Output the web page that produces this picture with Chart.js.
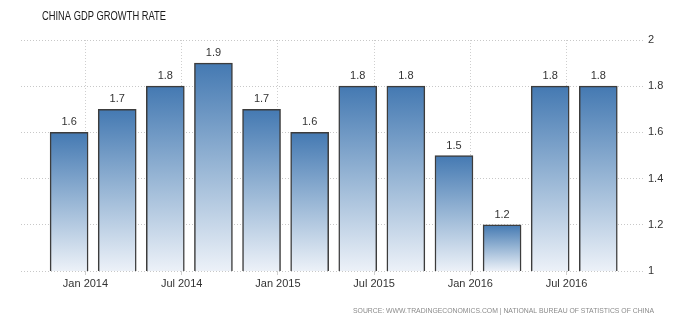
<!DOCTYPE html>
<html>
<head>
<meta charset="utf-8">
<script src="https://cdn.jsdelivr.net/npm/chart.js@4/dist/chart.umd.min.js"></script>
<style>
  html, body { margin: 0; padding: 0; background: #fff; }
  #wrap { width: 696px; height: 324px; }
</style>
</head>
<body>
<div id="wrap"><canvas id="chart" width="696" height="324"></canvas></div>
<script>
// quarterly GDP growth (qoq)
var quarters = ['2013Q4','2014Q1','2014Q2','2014Q3','2014Q4','2015Q1','2015Q2','2015Q3','2015Q4','2016Q1','2016Q2','2016Q3'];
var growth = [1.6, 1.7, 1.8, 1.9, 1.7, 1.6, 1.8, 1.8, 1.5, 1.2, 1.8, 1.8];
var tickLabels = ['Jan 2014','Jul 2014','Jan 2015','Jul 2015','Jan 2016','Jul 2016'];
var tickPos = [0.34, 2.34, 4.34, 6.34, 8.34, 10.34];
var yTicks = [1, 1.2, 1.4, 1.6, 1.8, 2];

var titleText = 'CHINA GDP GROWTH RATE';
var sourceText = 'SOURCE: WWW.TRADINGECONOMICS.COM | NATIONAL BUREAU OF STATISTICS OF CHINA';

var pts = growth.map(function(v, i){ return { x: i, y: v, q: quarters[i] }; });

// gradient per bar, top blue to almost white at the base
function barFill(c) {
  var ch = c.chart;
  var ys = ch.scales.y;
  if (!ys || !ch.chartArea || c.raw == null) return '#467fb4';
  var top = ys.getPixelForValue(c.raw.y);
  var bot = ys.getPixelForValue(ys.min);
  if (!isFinite(top) || !isFinite(bot) || bot - top < 1) return '#467fb4';
  var g = ch.ctx.createLinearGradient(0, top, 0, bot);
  g.addColorStop(0, '#4479b2');
  g.addColorStop(0.5, '#98b6d5');
  g.addColorStop(1, '#ecf1f8');
  return g;
}

var extras = {
  id: 'extras',
  afterDatasetsDraw: function(chart) {
    var ctx = chart.ctx;
    var meta = chart.getDatasetMeta(0);
    ctx.save();
    ctx.font = '11px "Liberation Sans", Arial, sans-serif';
    ctx.fillStyle = '#333';
    ctx.textAlign = 'center';
    ctx.textBaseline = 'middle';
    meta.data.forEach(function(bar, i){
      ctx.fillText(growth[i].toFixed(1), bar.x, bar.y - 10);
    });
    ctx.restore();
  },
  afterDraw: function(chart) {
    var ctx = chart.ctx;
    ctx.save();
    ctx.font = '12px "Liberation Sans", Arial, sans-serif';
    ctx.fillStyle = '#1a1a1a';
    ctx.textAlign = 'left';
    ctx.textBaseline = 'middle';
    ctx.fillText(titleText, 42, 17, 124);
    ctx.font = '8px "Liberation Sans", Arial, sans-serif';
    ctx.fillStyle = '#8a8a8a';
    ctx.textAlign = 'right';
    ctx.fillText(sourceText, 654, 311, 301);
    ctx.restore();
  }
};

new Chart(document.getElementById('chart'), {
  type: 'bar',
  data: {
    datasets: [{
      data: pts,
      backgroundColor: barFill,
      borderColor: '#3c3c3c',
      borderWidth: 1.5,
      borderSkipped: false,
      barThickness: 38
    }]
  },
  options: {
    responsive: false,
    animation: false,
    layout: { padding: { left: 21, top: 40, right: 0, bottom: 0 } },
    plugins: { legend: { display: false }, tooltip: { enabled: false } },
    scales: {
      x: {
        type: 'linear',
        min: -1,
        max: 11.95,
        offset: false,
        afterBuildTicks: function(s){ s.ticks = tickPos.map(function(v){ return { value: v }; }); },
        afterFit: function(s){ s.height = 53; },
        ticks: {
          autoSkip: false,
          maxRotation: 0,
          padding: 2,
          color: '#333',
          font: { family: '"Liberation Sans", Arial, sans-serif', size: 11 },
          callback: function(v, i){ return tickLabels[i]; }
        },
        grid: { offset: false, color: '#cfcfcf', tickColor: '#cfcfcf', tickLength: 4, drawTicks: true },
        border: { display: false, dash: [1, 2] }
      },
      y: {
        position: 'right',
        min: 1,
        max: 2,
        afterBuildTicks: function(s){ s.ticks = yTicks.map(function(v){ return { value: v }; }); },
        afterFit: function(s){ s.width = 52; },
        ticks: {
          padding: 4,
          color: '#333',
          font: { family: '"Liberation Sans", Arial, sans-serif', size: 11 },
          callback: function(v){ return String(v); }
        },
        grid: { color: '#c8c8c8', drawTicks: false, tickLength: 0 },
        border: { display: false, dash: [1, 2] }
      }
    }
  },
  plugins: [extras]
});
</script>
</body>
</html>
